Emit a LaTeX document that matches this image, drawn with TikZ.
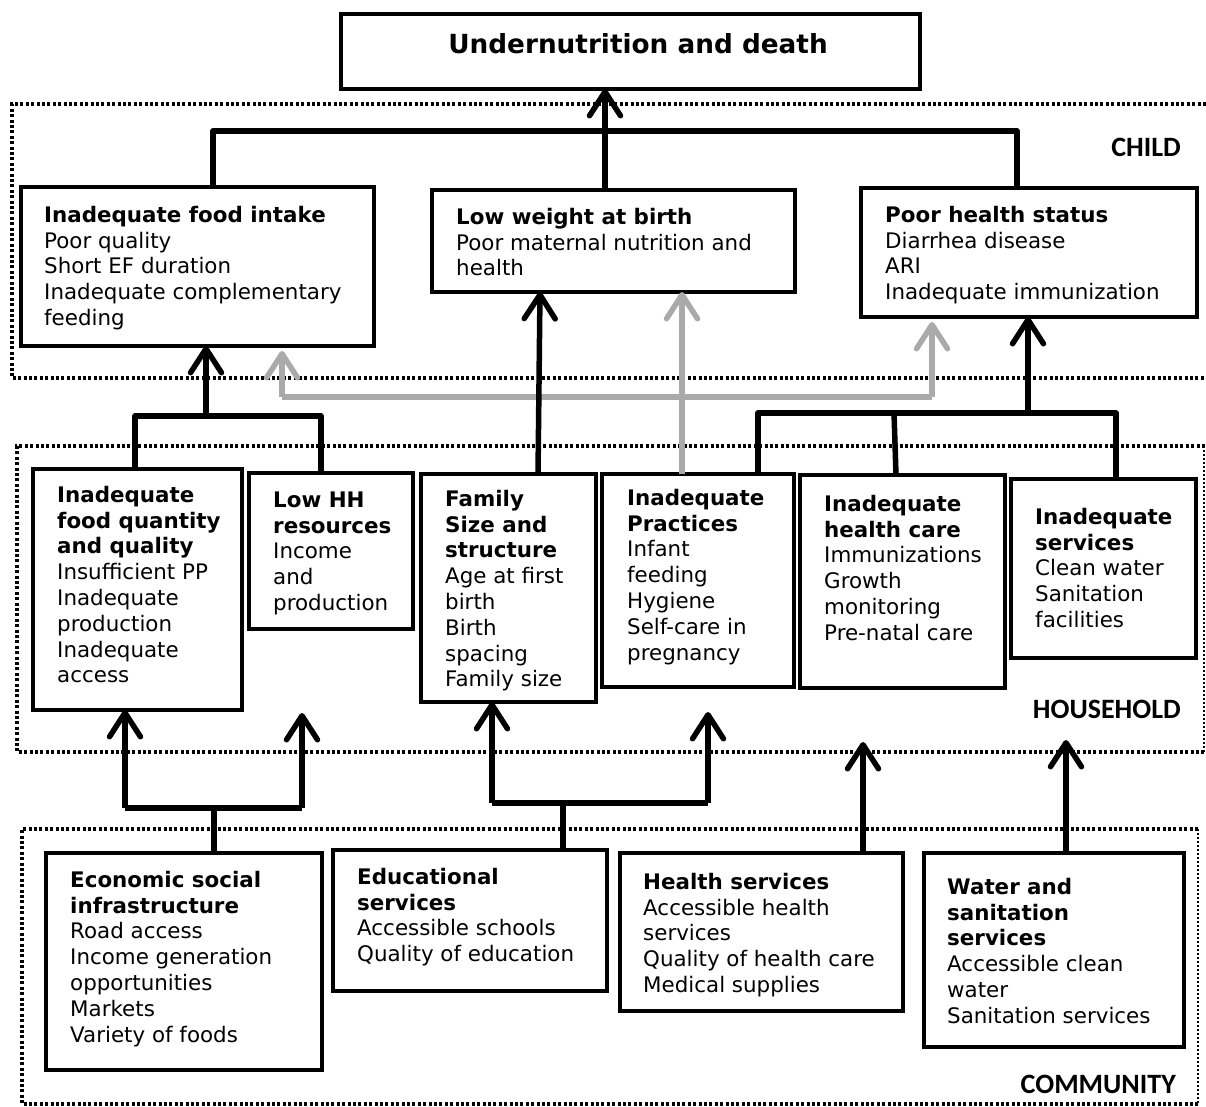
\documentclass[tikz,border=0pt]{standalone}
\usepackage{fontspec}
\setmainfont{DejaVu Sans}
\newfontfamily\lblfont{Carlito}
\usetikzlibrary{arrows.meta}
\definecolor{lgray}{RGB}{170,170,170}
\newcommand\mybox[5]{\node[box,minimum width={(#4-#2)*1pt},minimum height={(#5-#3)*1pt}] (#1) at (#2,#3) {};}
\begin{document}
\begin{tikzpicture}[x=1pt,y=-1pt,
  box/.style={draw,line width=4.5pt,anchor=north west,inner sep=0pt,outer sep=0pt},
  txt/.style={anchor=north west,inner sep=0pt,align=left,font=\fontsize{21.4}{25.8}\selectfont},
  conn/.style={line width=5.5pt,line join=round},
  arr/.style={conn,-{Straight Barb[length=24pt,width=31pt,round]}},
  garr/.style={arr,draw=lgray},
  region/.style={line width=3.5pt,dash pattern=on 3pt off 2.4pt},
  thinregion/.style={line width=1.4pt,dash pattern=on 2pt off 2pt},
  lvl/.style={anchor=east,inner sep=0pt,font=\lblfont\bfseries\fontsize{28}{30}\selectfont}]
\useasboundingbox (0,0) rectangle (1206,1107);
% regions
\draw[region] (1206,104) -- (12,104) -- (12,378) -- (1206,378);
\draw[region] (1205,446) -- (17,446) -- (17,752) -- (1205,752);
\draw[thinregion] (1204,446) -- (1204,752);
\draw[region] (1198,829) -- (22,829) -- (22,1104) -- (1198,1104);
\draw[thinregion] (1198,829) -- (1198,1104);
\node[lvl] (lchild) at (1181,147) {CHILD};
\node[lvl] (lhh) at (1181,709) {HOUSEHOLD};
\node[lvl] (lcom) at (1176,1084) {COMMUNITY};
% top
\mybox{top}{341}{14}{920}{89}
\node[inner sep=0pt,font=\bfseries\fontsize{26.3}{30}\selectfont] (ttop) at (638,44) {Undernutrition and death};
% child boxes
\mybox{c1}{21}{187}{374}{346}
\mybox{c2}{432}{190}{795}{292}
\mybox{c3}{861}{188}{1197}{317}
\node[txt] (tc1) at (44,204) {\strut\textbf{Inadequate food intake}\\Poor quality\\Short EF duration\\Inadequate complementary\\feeding};
\node[txt] (tc2) at (456,206) {\strut\textbf{Low weight at birth}\\Poor maternal nutrition and\\health};
\node[txt] (tc3) at (885,204) {\strut\textbf{Poor health status}\\Diarrhea disease\\ARI\\Inadequate immunization};
% household boxes
\mybox{h1}{33}{469}{242}{710}
\mybox{h2}{249}{473}{413}{629}
\mybox{h3}{421}{474}{596}{702}
\mybox{h4}{602}{474}{794}{687}
\mybox{h5}{800}{475}{1005}{688}
\mybox{h6}{1011}{479}{1196}{658}
\node[txt] (th1) at (57,484) {\strut\textbf{Inadequate}\\\textbf{food quantity}\\\textbf{and quality}\\Insufficient PP\\Inadequate\\production\\Inadequate\\access};
\node[txt] (th2) at (273,489) {\strut\textbf{Low HH}\\\textbf{resources}\\Income\\and\\production};
\node[txt] (th3) at (445,488) {\strut\textbf{Family}\\\textbf{Size and}\\\textbf{structure}\\Age at first\\birth\\Birth\\spacing\\Family size};
\node[txt] (th4) at (627,487) {\strut\textbf{Inadequate}\\\textbf{Practices}\\Infant\\feeding\\Hygiene\\Self-care in\\pregnancy};
\node[txt] (th5) at (824,493) {\strut\textbf{Inadequate}\\\textbf{health care}\\Immunizations\\Growth\\monitoring\\Pre-natal care};
\node[txt] (th6) at (1035,506) {\strut\textbf{Inadequate}\\\textbf{services}\\Clean water\\Sanitation\\facilities};
% community boxes
\mybox{m1}{46}{853}{322}{1070}
\mybox{m2}{333}{850}{607}{991}
\mybox{m3}{620}{853}{903}{1011}
\mybox{m4}{924}{853}{1184}{1047}
\node[txt] (tm1) at (70,869) {\strut\textbf{Economic social}\\\textbf{infrastructure}\\Road access\\Income generation\\opportunities\\Markets\\Variety of foods};
\node[txt] (tm2) at (357,866) {\strut\textbf{Educational}\\\textbf{services}\\Accessible schools\\Quality of education};
\node[txt] (tm3) at (643,871) {\strut\textbf{Health services}\\Accessible health\\services\\Quality of health care\\Medical supplies};
\node[txt] (tm4) at (947,876) {\strut\textbf{Water and}\\\textbf{sanitation}\\\textbf{services}\\Accessible clean\\water\\Sanitation services};
% free ends
\coordinate (e1) at (302,713);
\coordinate (e2) at (708,712);
\coordinate (e3) at (863,742);
\coordinate (e4) at (1066,740);
\coordinate (g1) at (282,351);
\coordinate (g2) at (932,322);
% gray connectors
\draw[conn,draw=lgray] (682,0 |- h4.north) -- (682,397);
\draw[conn,draw=lgray] (282,397) -- (932,397);
\draw[garr] (682,397) -- (682,0 |- c2.south);
\draw[garr] (282,397) -- (g1);
\draw[garr] (932,397) -- (g2);
% child to top
\draw[conn] (213,0 |- c1.north) |- (1017,131) -- (1017,0 |- c3.north);
\draw[arr] (605,0 |- c2.north) -- (605,0 |- top.south);
% household to child
\draw[conn] (135,0 |- h1.north) |- (321,416) -- (321,0 |- h2.north);
\draw[arr] (206,416) -- (206,0 |- c1.south);
\draw[arr] (538,0 |- h3.north) -- (540,0 |- c2.south);
\draw[conn] (758,0 |- h4.north) |- (1116,413) -- (1116,0 |- h6.north);
\draw[conn] (896,0 |- h5.north) -- (894,413);
\draw[arr] (1028,413) -- (1028,0 |- c3.south);
% community to household
\draw[conn] (214,0 |- m1.north) -- (214,808);
\draw[conn] (125,808) -- (302,808);
\draw[arr] (125,808) -- (125,0 |- h1.south);
\draw[arr] (302,808) -- (e1);
\draw[conn] (563,0 |- m2.north) -- (563,803);
\draw[conn] (492,803) -- (708,803);
\draw[arr] (492,803) -- (492,0 |- h3.south);
\draw[arr] (708,803) -- (e2);
\draw[arr] (863,0 |- m3.north) -- (e3);
\draw[arr] (1066,0 |- m4.north) -- (e4);
\end{tikzpicture}
\end{document}
